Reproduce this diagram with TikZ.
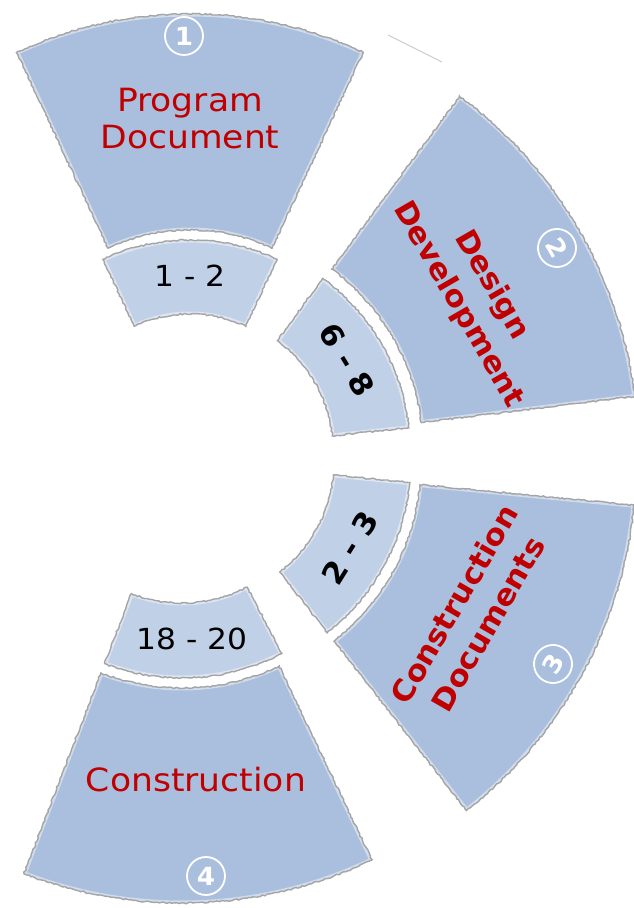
\documentclass[tikz,border=0pt]{standalone}
\usepackage{fontspec}
\setmainfont{DejaVu Sans}
\newfontfamily\widesans[FakeStretch=1.08]{DejaVu Sans}
\newfontfamily\heavysans[FakeStretch=1.05]{DejaVu Sans Bold}
\usetikzlibrary{calc,decorations.pathmorphing}

\definecolor{partblue}{RGB}{170,191,221}
\definecolor{steppale}{RGB}{192,208,231}
\definecolor{titlered}{RGB}{192,0,0}
\definecolor{rimgray}{RGB}{165,165,165}

% annular piece: centre x, centre y, start angle, end angle, inner r, outer r
\newcommand{\ringpart}[6]{%
  ($(#1,#2)+(#3:#6pt)$) arc[start angle=#3,end angle=#4,radius=#6pt]
  -- ($(#1,#2)+(#4:#5pt)$) arc[start angle=#4,end angle=#3,radius=#5pt] -- cycle}
% filled piece with a soft inner glow and a torn rim
\newcommand{\tornpart}[7]{%
  \fill[#1] \ringpart{#2}{#3}{#4}{#5}{#6}{#7};
  \begin{scope}
    \clip \ringpart{#2}{#3}{#4}{#5}{#6}{#7};
    \draw[white,opacity=0.45,line width=5pt] \ringpart{#2}{#3}{#4}{#5}{#6}{#7};
  \end{scope}
  \draw[rim] \ringpart{#2}{#3}{#4}{#5}{#6}{#7};}

\begin{document}
\begin{tikzpicture}[x=1pt,y=1pt,
    bigpart/.style={fill=partblue},
    smallpart/.style={fill=steppale},
    rim/.style={rimgray,line width=1.4pt,
      decorate,decoration={random steps,segment length=2.4pt,amplitude=0.8pt}},
    phase/.style={text=titlered,font=\widesans\fontsize{32}{37}\selectfont,align=center},
    phasebold/.style={text=titlered,font=\heavysans\fontsize{29.5}{39}\selectfont,align=center},
    weeks/.style={font=\widesans\fontsize{29}{34}\selectfont,anchor=base},
    weeksbold/.style={font=\heavysans\fontsize{30}{32}\selectfont},
    badge/.style={circle,draw=white,line width=1.8pt,minimum size=38pt,inner sep=0pt,
      text=white,font=\heavysans\fontsize{25}{26}\selectfont}]
  \useasboundingbox (0,0) rectangle (633,908);

  % top pair
  \tornpart{bigpart}{190}{484}{65}{115}{194}{410}
  \tornpart{smallpart}{190}{462}{65}{115}{132}{206}
  % right upper pair
  \tornpart{bigpart}{198}{458}{7}{53.5}{225}{440}
  \tornpart{smallpart}{198}{458}{6}{54}{135}{212}
  % right lower pair
  \tornpart{bigpart}{195}{445}{-52}{-5.5}{226}{441}
  \tornpart{smallpart}{193}{447}{-52}{-5.7}{141}{218}
  % bottom pair
  \tornpart{bigpart}{182}{446}{-111}{-64.5}{226}{441}
  \tornpart{smallpart}{182}{446}{-111}{-62.5}{141}{216}

  \draw[gray!40,line width=1pt] (388,873) -- (442,846);

  \node[phase] (program) at (190,789) {Program\\Document};
  \node[phasebold,rotate=-60] (design) at (475,613) {Design\\Development};
  \node[phasebold,rotate=60] (condocs) at (471,294) {Construction\\Documents};
  \node[phase] (construction) at (196,128) {Construction};

  \node[weeks] (w12) at (190,621) {1 - 2};
  \node[weeksbold,rotate=-59] (w68) at (347,548) {6 - 8};
  \node[weeksbold,rotate=58] (w23) at (350,360) {2 - 3};
  \node[weeks] (w1820) at (192,258) {18 - 20};

  \node[badge] (b1) at (184,872) {1};
  \node[badge,rotate=-60] (b2) at (557,660) {2};
  \node[badge,rotate=60] (b3) at (553,244) {3};
  \node[badge] (b4) at (206,32) {4};
\end{tikzpicture}
\end{document}
